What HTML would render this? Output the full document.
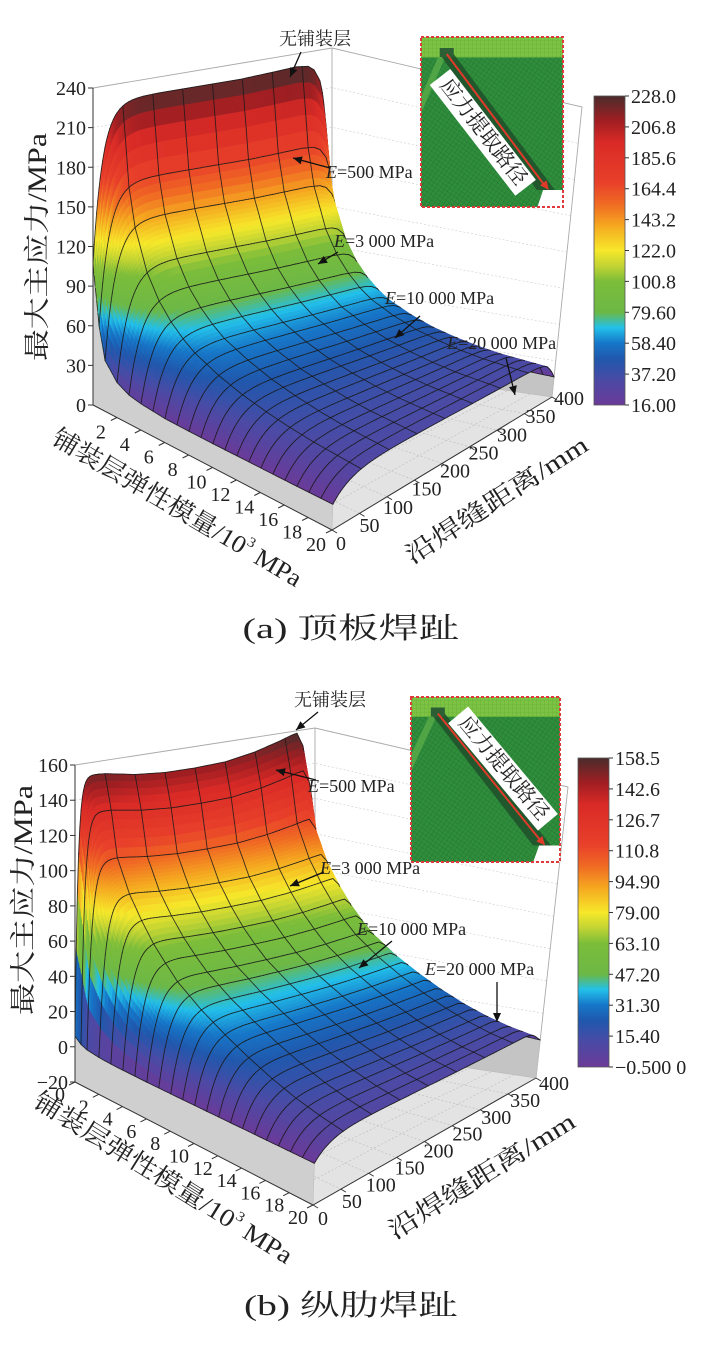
<!DOCTYPE html>
<html><head><meta charset="utf-8"><style>
html,body{margin:0;padding:0;background:#fff;}
svg{display:block;}
text{font-family:"Liberation Serif","Noto Serif CJK SC",serif;fill:#222;}
</style></head><body>
<svg id="fig" xmlns="http://www.w3.org/2000/svg" width="703" height="1348" viewBox="0 0 703 1348">
<defs>
<pattern id="mesh" width="4" height="4" patternUnits="userSpaceOnUse" patternTransform="rotate(35)"><rect width="4" height="4" fill="#2f8d3c"/><path d="M0 0H4M0 0V4" stroke="#237530" stroke-width="0.8"/></pattern>
<pattern id="mesh2" width="4" height="4" patternUnits="userSpaceOnUse"><rect width="4" height="4" fill="#7cc243"/><path d="M0 0H4M0 0V4" stroke="#62a934" stroke-width="0.6"/></pattern>
</defs>
<g id="panelA"></g>
<g id="panelB"></g>
<text x="351" y="638" text-anchor="middle" font-size="29" textLength="217" lengthAdjust="spacingAndGlyphs">(a) 顶板焊趾</text>
<text x="351" y="1315" text-anchor="middle" font-size="29" textLength="214" lengthAdjust="spacingAndGlyphs">(b) 纵肋焊趾</text>
</svg>
<script>
// ---- data ----
const modulusPoints = [0,0.5,1,2,3,4,5,6,8,10,12,14,16,18,20];            // 10^3 MPa
const stressPeakA   = [228,168,140,110,92,80,71,64,55,48,43,39,36,34,32];   // plateau stress, MPa
const stressPeakB   = [154,134,108,90,78,68,60,53,43,35,28,22,17,13,10];
const edgeStressA   = [107,62,38,26,21,19,18,17,16.5,16.3,16.2,16.1,16,16,16]; // stress at d=0
const edgeStressB   = [6,3,1.5,0.5,0,-0.2,-0.3,-0.4,-0.5,-0.5,-0.5,-0.5,-0.5,-0.5,-0.5];
const riseWidthA    = [16,17,18,20,21,22,23,24,26,27,28,29,30,31,32];      // mm
const riseWidthB    = [5,6,8,10,12,14,15,17,19,21,23,25,27,28,30];
const distancePoints = [0,50,100,150,200,250,300,340,360,370,380,385,390,395,400]; // mm
const tailA = [1,1,1,1,1,1,1.005,1.01,1.005,0.99,0.95,0.9,0.8,0.68,0.52];
const tailB = [1,0.99,0.97,0.96,0.96,0.965,0.985,1.01,1.025,1.03,0.98,0.9,0.75,0.55,0.35];
const zTicksA = [0,30,60,90,120,150,180,210,240];
const zTicksB = [-20,0,20,40,60,80,100,120,140,160];
const eTicksA = [2,4,6,8,10,12,14,16,18,20];
const eTicksB = [0,2,4,6,8,10,12,14,16,18,20];
const dTicks = [0,50,100,150,200,250,300,350,400];
const gridE = [0,0.5,1,2,3,4,5,6,7,8,9,10,11,12,13,14,15,16,17,18,19,20];
const gridD = [0,50,100,150,200,250,300,350,400];
const colorbarLabelsA = ["228.0","206.8","185.6","164.4","143.2","122.0","100.8","79.60","58.40","37.20","16.00"];
const colorbarLabelsB = ["158.5","142.6","126.7","110.8","94.90","79.00","63.10","47.20","31.30","15.40","\u22120.500 0"];
const colorRangeA = [16,228];
const colorRangeB = [-0.5,158.5];

const stops=[[0,'#6b3a98'],[0.08,'#4b4aa5'],[0.15,'#1f58ad'],[0.2,'#1676c8'],[0.25,'#22c0ea'],[0.3,'#6cb846'],[0.4,'#7cbd3a'],[0.45,'#c2d433'],[0.5,'#f6e82a'],[0.58,'#f5a820'],[0.65,'#f06a23'],[0.72,'#e8402a'],[0.85,'#d92a26'],[0.92,'#a01e22'],[1,'#4a2c2c']];
const NS='http://www.w3.org/2000/svg';
function hx(h){return [parseInt(h.substr(1,2),16),parseInt(h.substr(3,2),16),parseInt(h.substr(5,2),16)];}
function cmap(t){t=Math.max(0,Math.min(1,t));for(let i=1;i<stops.length;i++){if(t<=stops[i][0]){const a=hx(stops[i-1][1]),b=hx(stops[i][1]);const f=(t-stops[i-1][0])/(stops[i][0]-stops[i-1][0]);return 'rgb('+a.map((v,k)=>Math.round(v+(b[k]-v)*f)).join(',')+')';}}return stops[stops.length-1][1];}
function interp(xs,ys,x){if(x<=xs[0])return ys[0];for(let i=1;i<xs.length;i++){if(x<=xs[i]){const f=(x-xs[i-1])/(xs[i]-xs[i-1]);return ys[i-1]+(ys[i]-ys[i-1])*f;}}return ys[ys.length-1];}
function mk(tag,attrs,parent){const e=document.createElementNS(NS,tag);for(const k in attrs)e.setAttribute(k,attrs[k]);parent.appendChild(e);return e;}
function pts(a){return a.map(p=>p[0].toFixed(1)+','+p[1].toFixed(1)).join(' ');}
function onGrid(arr,v){return arr.some(a=>Math.abs(a-v)<1e-6);}

function drawPanel(g,cfg,peak,edge,riseW,tail,zTicks,eTicks,cbLabels,crange){
  const bil=(P,u,v)=>[(1-u)*(1-v)*P.L[0]+u*(1-v)*P.B[0]+(1-u)*v*P.F[0]+u*v*P.R[0],(1-u)*(1-v)*P.L[1]+u*(1-v)*P.B[1]+(1-u)*v*P.F[1]+u*v*P.R[1]];
  const proj=(d,E,z)=>{const u=d/400,v=E/20;const f=bil(cfg.floor,u,v),t=bil(cfg.top,u,v);const k=(z-cfg.zmin)/(cfg.zmax-cfg.zmin);return [f[0]+(t[0]-f[0])*k,f[1]+(t[1]-f[1])*k];};
  const S=(d,E)=>{const p=interp(modulusPoints,peak,E),e=interp(modulusPoints,edge,E),w=interp(modulusPoints,riseW,E);return (e+(p-e)*(1-Math.exp(-d/w)))*interp(distancePoints,tail,d);};
  const zmin=cfg.zmin;
  const floor=mk('polygon',{points:pts([proj(0,0,zmin),proj(400,0,zmin),proj(400,20,zmin),proj(0,20,zmin)]),fill:'#e3e3e3',stroke:'none'},g);
  
  
  dTicks.forEach(d=>{const l=mk('line',{x1:proj(d,0,zmin)[0],y1:proj(d,0,zmin)[1],x2:proj(d,20,zmin)[0],y2:proj(d,20,zmin)[1],stroke:'#bbb','stroke-width':0.6,'stroke-dasharray':'2,2'},g);
    
    });
  eTicks.forEach(E=>{const l=mk('line',{x1:proj(0,E,zmin)[0],y1:proj(0,E,zmin)[1],x2:proj(400,E,zmin)[0],y2:proj(400,E,zmin)[1],stroke:'#bbb','stroke-width':0.6,'stroke-dasharray':'2,2'},g);
    
    });
  zTicks.forEach(z=>{const l=mk('polyline',{points:pts([proj(0,0,z),proj(400,0,z),proj(400,20,z)]),fill:'none',stroke:'#ccc','stroke-width':0.6,'stroke-dasharray':'2,2'},g);
    
    });
  const rim=mk('polyline',{points:pts([proj(0,0,cfg.zmax),proj(400,0,cfg.zmax),proj(400,20,cfg.zmax),proj(400,20,zmin)]),fill:'none',stroke:'#aaa','stroke-width':0.9},g);
  
  
  const bv=mk('line',{x1:proj(400,0,zmin)[0],y1:proj(400,0,zmin)[1],x2:proj(400,0,cfg.zmax)[0],y2:proj(400,0,cfg.zmax)[1],stroke:'#aaa','stroke-width':0.9},g);
  
  
  const ds=[];for(let d=0;d<40;d+=2)ds.push(d);for(let d=40;d<360;d+=5)ds.push(d);for(let d=360;d<=400;d+=2)ds.push(d);
  const es=[];for(let i=0;i<20;i++)es.push(+(i*0.1).toFixed(2));for(let i=0;i<=72;i++)es.push(+(2+i*0.25).toFixed(2));
  const c0=[];es.forEach(E=>c0.push(proj(0,E,S(0,E))));c0.push(proj(0,20,zmin));c0.push(proj(0,0,zmin));
  const cur0=mk('polygon',{points:pts(c0),fill:'#cfcfcf',stroke:'#b8b8b8','stroke-width':0.5},g);
  
  
  const c4=[];es.forEach(E=>c4.push(proj(400,E,S(400,E))));c4.push(proj(400,20,zmin));c4.push(proj(400,0,zmin));
  const cur4=mk('polygon',{points:pts(c4),fill:'#c4c4c4',stroke:'#b8b8b8','stroke-width':0.5},g);
  
  
  const surf=mk('g',{},g);
  
  
  const lineAttr={stroke:'#1a1a1a','stroke-width':0.9,'stroke-opacity':0.85,'stroke-linecap':'round'};
  for(let j=0;j<es.length-1;j++){
    const segs=[];
    for(let i=ds.length-2;i>=0;i--){
      const d0=ds[i],d1=ds[i+1],e0=es[j],e1=es[j+1];
      const z00=S(d0,e0),z10=S(d1,e0),z11=S(d1,e1),z01=S(d0,e1);
      const p00=proj(d0,e0,z00),p10=proj(d1,e0,z10),p11=proj(d1,e1,z11),p01=proj(d0,e1,z01);
      const zm=(z00+z10+z11+z01)/4;const col=cmap((zm-crange[0])/(crange[1]-crange[0]));
      const q=mk('polygon',{points:pts([p00,p10,p11,p01]),fill:col,stroke:col,'stroke-width':0.5},surf);
      
      
      if(onGrid(gridE,e0))segs.push([p00,p10]);
      if(j===es.length-2&&onGrid(gridE,e1))segs.push([p01,p11]);
      if(onGrid(gridD,d0))segs.push([p00,p01]);
      if(i===ds.length-2&&onGrid(gridD,d1))segs.push([p10,p11]);
    }
    segs.forEach(s=>{const l=mk('line',Object.assign({x1:s[0][0].toFixed(1),y1:s[0][1].toFixed(1),x2:s[1][0].toFixed(1),y2:s[1][1].toFixed(1)},lineAttr),surf);
      
      });
  }
  const za=mk('line',{x1:proj(0,0,zmin)[0],y1:proj(0,0,zmin)[1],x2:proj(0,0,cfg.zmax)[0],y2:proj(0,0,cfg.zmax)[1],stroke:'#333','stroke-width':1},g);
  
  
  const ea=mk('polyline',{points:pts([proj(0,0,zmin),proj(0,20,zmin),proj(400,20,zmin)]),fill:'none',stroke:'#333','stroke-width':1},g);
  
  
  zTicks.forEach(z=>{const p=proj(0,0,z);
    const tk=mk('line',{x1:p[0]-5,y1:p[1],x2:p[0],y2:p[1],stroke:'#333','stroke-width':1},g);
    
    
    const t=mk('text',{x:p[0]-7,y:p[1]+7,'text-anchor':'end','font-size':20},g);t.textContent=(z<0?'\u2212'+(-z):z);
    
    });
  eTicks.forEach(E=>{const p=proj(0,E,zmin);
    const tk=mk('line',{x1:p[0],y1:p[1],x2:p[0]-6,y2:p[1]+3,stroke:'#333','stroke-width':1},g);
    
    
    const t=mk('text',{x:p[0]+cfg.eOff[0],y:p[1]+cfg.eOff[1]+7,'text-anchor':'middle','font-size':20},g);t.textContent=E;
    
    });
  dTicks.forEach(d=>{const p=proj(d,20,zmin);const u=d/400;
    const tk=mk('line',{x1:p[0],y1:p[1],x2:p[0]+5,y2:p[1]+3,stroke:'#333','stroke-width':1},g);
    
    
    const t=mk('text',{x:p[0]+cfg.dOff[0]+cfg.dOffU[0]*u,y:p[1]+cfg.dOff[1]+cfg.dOffU[1]*u+7,'text-anchor':'middle','font-size':20},g);t.textContent=d;
    
    });
  const gid='cb'+cfg.id;const lg=mk('linearGradient',{id:gid,x1:0,y1:1,x2:0,y2:0},document.querySelector('defs'));
  stops.forEach(s=>mk('stop',{offset:s[0],'stop-color':s[1]},lg));
  const cb=cfg.cb;
  const cbr=mk('rect',{x:cb.x,y:cb.y,width:cb.w,height:cb.h,fill:'url(#'+gid+')',stroke:'#555','stroke-width':0.8},g);
  
  
  cbLabels.forEach((s,i)=>{const y=cb.y+cb.h*i/(cbLabels.length-1);
    const tk=mk('line',{x1:cb.x+cb.w,y1:y,x2:cb.x+cb.w+4,y2:y,stroke:'#333','stroke-width':1},g);
    
    
    const t=mk('text',{x:cb.x+cb.w+6,y:y+7,'font-size':20},g);t.textContent=s;
    
    });
}

function title(g,txt,cx,cy,ang,len,fs,name){const t=mk('text',{x:cx,y:cy,'text-anchor':'middle','dominant-baseline':'middle','font-size':fs,textLength:len,lengthAdjust:'spacingAndGlyphs',transform:'rotate('+ang+' '+cx+' '+cy+')'},g);t.innerHTML=txt;
  
  }
function note(g,html,x,y,ax1,ay1,ax2,ay2,name){const t=mk('text',{x:x,y:y,'font-size':18},g);t.innerHTML=html;
  
  
  const l=mk('line',{x1:ax1,y1:ay1,x2:ax2,y2:ay2,stroke:'#111','stroke-width':1.3},g);
  
  
  const a=Math.atan2(ay2-ay1,ax2-ax1),L=9,W=4;
  const p=[[ax2,ay2],[ax2-L*Math.cos(a)+W*Math.sin(a),ay2-L*Math.sin(a)-W*Math.cos(a)],[ax2-L*Math.cos(a)-W*Math.sin(a),ay2-L*Math.sin(a)+W*Math.cos(a)]];
  const h=mk('polygon',{points:pts(p),fill:'#111'},g);
  
  }
function inset(g,x,y,w,h,labelSide,name){const s=mk('g',{},g);
  
  
  mk('rect',{x:x,y:y,width:w,height:h,fill:'url(#mesh)'},s);
  mk('rect',{x:x,y:y,width:w,height:h*0.12,fill:'url(#mesh2)'},s);
  mk('polygon',{points:pts([[x,y+h*0.35],[x+w*0.12,y+h*0.12],[x+w*0.17,y+h*0.12],[x,y+h*0.45]]),fill:'#5fb04a',opacity:0.7},s);
  const sx=x+w*0.16,sy=y+h*0.1,ex=x+w*0.9,ey=y+h*0.9;
  mk('polygon',{points:pts([[sx-4,sy],[sx+10,sy],[ex+6,ey],[ex-12,ey]]),fill:'#1f4f2a',opacity:0.85},s);
  mk('rect',{x:sx-4,y:sy-6,width:14,height:9,fill:'#2c5f33'},s);
  mk('line',{x1:sx+3,y1:sy,x2:ex-3,y2:ey-3,stroke:'#e23a2a','stroke-width':2},s);
  const a=Math.atan2(ey-sy,ex-sx);
  mk('polygon',{points:pts([[ex,ey],[ex-9*Math.cos(a)+4*Math.sin(a),ey-9*Math.sin(a)-4*Math.cos(a)],[ex-9*Math.cos(a)-4*Math.sin(a),ey-9*Math.sin(a)+4*Math.cos(a)]]),fill:'#e23a2a'},s);
  mk('polygon',{points:pts([[x+w*0.82,y+h],[x+w*0.86,y+h*0.9],[x+w,y+h*0.9],[x+w,y+h]]),fill:'#fff'},s);
  const mx=(sx+ex)/2,my=(sy+ey)/2,off=labelSide*17;const cx=mx-off*Math.sin(a),cy=my+off*Math.cos(a);const deg=a*180/Math.PI;
  mk('rect',{x:cx-70,y:cy-13,width:140,height:26,fill:'#fff',transform:'rotate('+deg+' '+cx+' '+cy+')'},s);
  const t=mk('text',{x:cx,y:cy+1,'text-anchor':'middle','dominant-baseline':'middle','font-size':21,textLength:128,lengthAdjust:'spacingAndGlyphs',transform:'rotate('+deg+' '+cx+' '+cy+')'},s);t.textContent='应力提取路径';
  
  
  const b=mk('rect',{x:x,y:y,width:w,height:h,fill:'none',stroke:'#e0393a','stroke-width':2,'stroke-dasharray':'3,2'},s);
  
  
}

const gA=document.getElementById('panelA'),gB=document.getElementById('panelB');
drawPanel(gA,{id:'A',zmin:0,zmax:240,floor:{L:[93,405],B:[332,365],F:[332,530],R:[552,397]},top:{L:[93,88],B:[332,48],F:[345,145],R:[582,107]},eOff:[-16,14],dOff:[9,13],dOffU:[8,-12],cb:{x:594,y:96,w:31,h:309}},stressPeakA,edgeStressA,riseWidthA,tailA,zTicksA,eTicksA,colorbarLabelsA,colorRangeA);
drawPanel(gB,{id:'B',zmin:-20,zmax:160,floor:{L:[75,1082],B:[315,1045],F:[313,1205],R:[536,1078]},top:{L:[75,765],B:[315,728],F:[326,820],R:[568,787]},eOff:[-15,12],dOff:[10,13],dOffU:[8,-8],cb:{x:578,y:758,w:31,h:309}},stressPeakB,edgeStressB,riseWidthB,tailB,zTicksB,eTicksB,colorbarLabelsB,colorRangeB);

title(gA,'最大主应力/MPa',40,247,-90,228,26,'y-axis-title-a');
title(gA,'铺装层弹性模量/10<tspan font-size="14" dy="-9">3</tspan><tspan dy="9"> MPa</tspan>',176,510,30.5,285,25,'modulus-axis-title-a');
title(gA,'沿焊缝距离/mm',498,502,-33,212,25,'distance-axis-title-a');
title(gB,'最大主应力/MPa',26,900,-90,230,26,'y-axis-title-b');
title(gB,'铺装层弹性模量/10<tspan font-size="14" dy="-9">3</tspan><tspan dy="9"> MPa</tspan>',162,1180,32,300,25,'modulus-axis-title-b');
title(gB,'沿焊缝距离/mm',483,1178,-32,215,25,'distance-axis-title-b');

note(gA,'无铺装层',279,45,301,52,290,77,'label-no-paving-a');
note(gA,'<tspan font-style="italic">E</tspan>=500 MPa',326,178,330,168,293,158,'label-e500-a');
note(gA,'<tspan font-style="italic">E</tspan>=3 000 MPa',334,247,338,252,318,264,'label-e3000-a');
note(gA,'<tspan font-style="italic">E</tspan>=10 000 MPa',385,304,420,316,395,338,'label-e10000-a');
note(gA,'<tspan font-style="italic">E</tspan>=20 000 MPa',447,349,506,358,515,395,'label-e20000-a');
note(gB,'无铺装层',294,706,318,712,296,730,'label-no-paving-b');
note(gB,'<tspan font-style="italic">E</tspan>=500 MPa',308,792,316,780,276,770,'label-e500-b');
note(gB,'<tspan font-style="italic">E</tspan>=3 000 MPa',320,874,324,872,290,886,'label-e3000-b');
note(gB,'<tspan font-style="italic">E</tspan>=10 000 MPa',357,935,392,941,359,968,'label-e10000-b');
note(gB,'<tspan font-style="italic">E</tspan>=20 000 MPa',425,975,497,982,497,1022,'label-e20000-b');

inset(gA,421,37,142,170,1,'inset-a-path-diagram');
inset(gB,411,697,149,165,-1,'inset-b-path-diagram');
</script>
</body></html>
